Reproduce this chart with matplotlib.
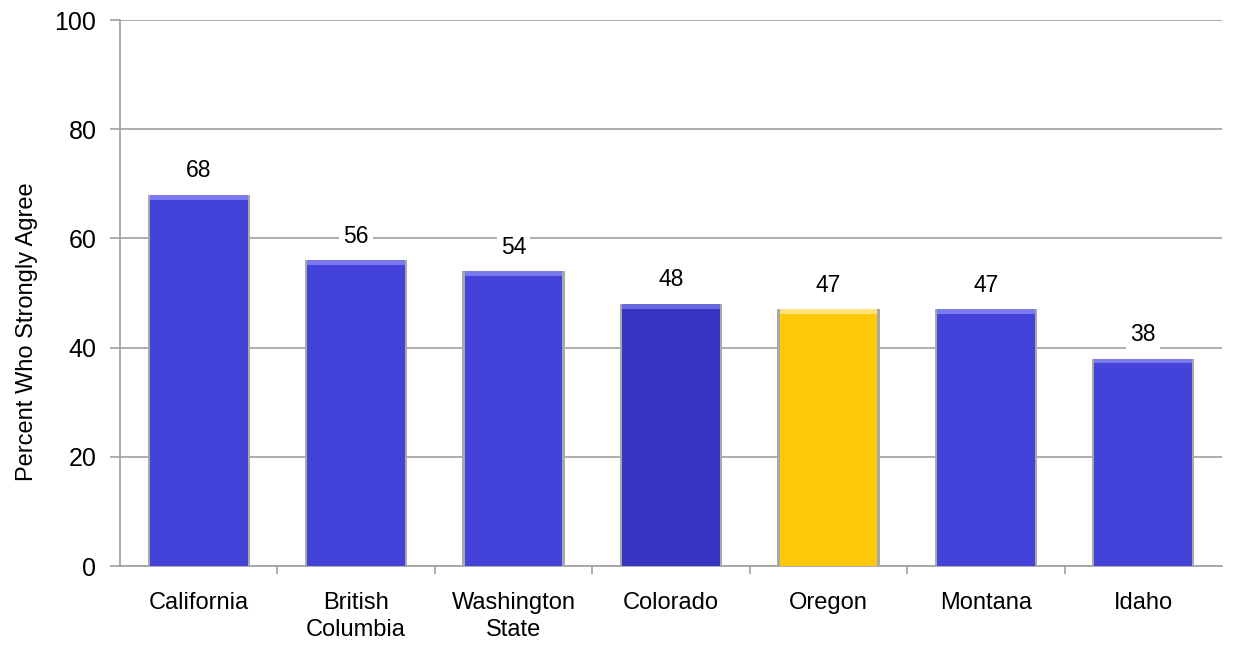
import matplotlib.pyplot as plt
import numpy as np

# Survey results: share of respondents who strongly agree, by state/province
regions = ['California', 'British\nColumbia', 'Washington\nState', 'Colorado',
           'Oregon', 'Montana', 'Idaho']
percents = [68, 56, 54, 48, 47, 47, 38]
bar_colors = ['#4343DA', '#4343DA', '#4343DA', '#3535C2',
              '#FFC90A', '#4343DA', '#4343DA']
top_colors = ['#7A7AEE', '#7A7AEE', '#7A7AEE', '#6A6AE0',
              '#FFE27A', '#7A7AEE', '#7A7AEE']

plt.rcParams['font.family'] = ['Liberation Sans', 'DejaVu Sans']

fig = plt.figure(figsize=(12.36, 6.5), dpi=100)
ax = fig.add_axes([120 / 1236, 84 / 650, 1102 / 1236, 546 / 650])

x = np.arange(len(regions))
width = 0.62

# gray shadow/edge behind each bar
ax.bar(x, percents, width=width + 0.03, color='#A8A8A8', zorder=2)
bars = ax.bar(x, percents, width=width, color=bar_colors, zorder=3)

# lighter bevel strip along the top of each bar
for xi, val, tc in zip(x, percents, top_colors):
    ax.bar(xi, 0.9, bottom=val - 0.9, width=width, color=tc, zorder=4)

for xi, val in zip(x, percents):
    ax.text(xi, val + 2.3, f'{val}', ha='center', va='bottom', fontsize=16.5,
            zorder=5, bbox=dict(facecolor='white', edgecolor='none', pad=3))

ax.set_xlim(-0.5, len(regions) - 0.5)
ax.set_ylim(0, 100)
ax.set_yticks(range(0, 101, 20))
ax.yaxis.grid(True, color='#A0A0A0', linewidth=1.2, zorder=0)
ax.set_axisbelow(True)

ax.set_xticks(x)
ax.set_xticklabels(regions, fontsize=17, linespacing=1.27)
ax.tick_params(axis='x', length=0, pad=19)
ax.set_xticks(np.arange(0.5, len(regions) - 0.5, 1), minor=True)
ax.tick_params(axis='x', which='minor', length=6, color='#A0A0A0', width=1.2)
ax.tick_params(axis='y', labelsize=18, length=7, color='#A0A0A0', width=1.2, pad=10)

ax.set_ylabel('Percent Who Strongly Agree', fontsize=17)
ax.yaxis.set_label_coords(-0.074, 0.43)

for side in ['top', 'right']:
    ax.spines[side].set_visible(False)
for side in ['left', 'bottom']:
    ax.spines[side].set_color('#A0A0A0')
    ax.spines[side].set_linewidth(1.2)

fig.savefig('out.png', dpi=100)
